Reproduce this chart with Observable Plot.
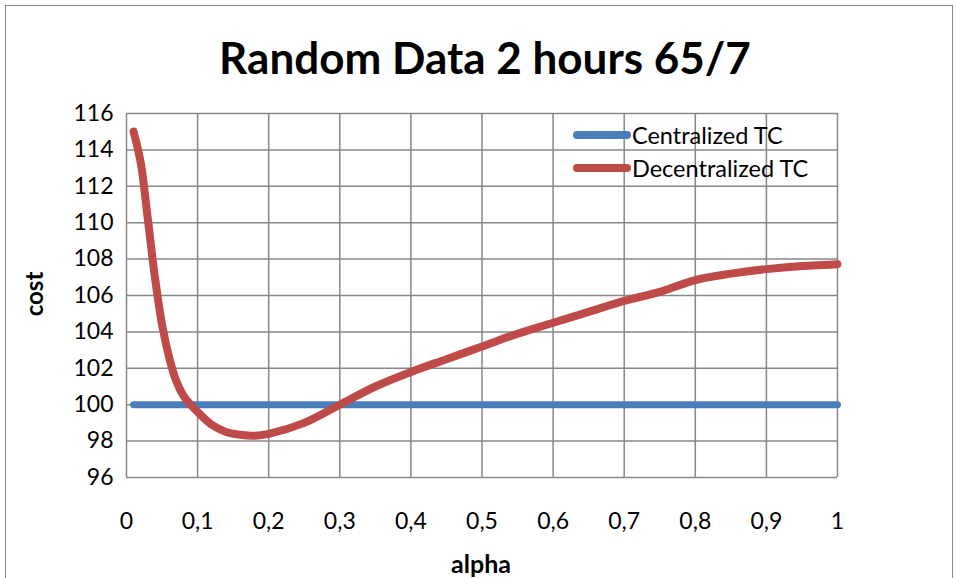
<!DOCTYPE html>
<html><head><meta charset="utf-8">
<script src="https://cdn.jsdelivr.net/npm/d3@7"></script>
<script src="https://cdn.jsdelivr.net/npm/@observablehq/plot@0.6"></script>
<style>
body{margin:0;background:#fff;font-family:Lato,"Open Sans",sans-serif;}
#wrap{position:relative;width:957px;height:578px;overflow:hidden;}
#border{position:absolute;left:5px;top:5px;width:946px;height:600px;border:1.5px solid #8a8a8a;}
#title{position:absolute;left:0;width:970px;top:31px;text-align:center;font-weight:bold;font-size:44px;line-height:53px;color:#000;}
.lab{position:absolute;font-weight:bold;font-size:24px;color:#000;white-space:nowrap;}
.leg{position:absolute;font-size:23.5px;line-height:28px;color:#000;white-space:nowrap;}
.sw{position:absolute;height:8px;border-radius:4px;}
#chart{position:absolute;left:0;top:0;}
</style></head><body>
<div id="wrap">
<div id="border"></div>
<div id="chart"></div>
<div id="title">Random Data 2 hours 65/7</div>
<div class="lab" style="left:481px;top:563px;transform:translate(-50%,-50%);font-size:25px;">alpha</div>
<div class="lab" style="left:33px;top:294px;transform:translate(-50%,-50%) rotate(-90deg);">cost</div>
<div class="sw" style="left:573px;top:131px;width:58px;background:#4a7ebb"></div>
<div class="leg" style="left:632px;top:121px;">Centralized TC</div>
<div class="sw" style="left:573px;top:164px;width:58px;background:#be4b48"></div>
<div class="leg" style="left:632px;top:154px;">Decentralized TC</div>
</div>
<script>
const alphaC = [0.01, 1];
const centralized = [100, 100];
const alphaD = [0.01,0.02,0.03,0.04,0.05,0.06,0.07,0.08,0.09,0.1,0.12,0.14,0.16,0.18,0.2,0.25,0.3,0.35,0.4,0.45,0.5,0.55,0.6,0.65,0.7,0.75,0.8,0.85,0.9,0.95,1];
const decentralized = [115.0,113.3,110.2,107.0,104.4,102.6,101.3,100.5,100.0,99.6,98.9,98.5,98.35,98.3,98.4,99.0,100.0,101.0,101.8,102.5,103.2,103.9,104.5,105.1,105.7,106.2,106.85,107.2,107.45,107.62,107.72];
const xTicks = [0,0.1,0.2,0.3,0.4,0.5,0.6,0.7,0.8,0.9,1];
const yTicks = [96,98,100,102,104,106,108,110,112,114,116];

const cData = alphaC.map((a,i)=>({alpha:a, cost:centralized[i]}));
const dData = alphaD.map((a,i)=>({alpha:a, cost:decentralized[i]}));
const fmt = d => String(d).replace(".", ",");

const chart = Plot.plot({
  width: 957, height: 578,
  marginLeft: 126, marginRight: 120, marginTop: 113, marginBottom: 101,
  style: {fontFamily: "Lato, 'Open Sans', sans-serif", fontSize: "23px", color: "#000", background: "transparent"},
  x: {domain: [0,1], label: null},
  y: {domain: [96,116], label: null},
  marks: [
    Plot.gridX(xTicks, {stroke: "#878787", strokeOpacity: 1, strokeWidth: 1.5}),
    Plot.gridY(yTicks, {stroke: "#878787", strokeOpacity: 1, strokeWidth: 1.5}),
    Plot.axisX({ticks: xTicks, tickFormat: fmt, tickSize: 0, tickPadding: 35, label: null, fontSize: 23}),
    Plot.axisY({ticks: yTicks, tickSize: 0, tickPadding: 13, label: null, fontSize: 23}),
    Plot.line(cData, {x: "alpha", y: "cost", stroke: "#4a7ebb", strokeWidth: 7, strokeLinecap: "round"}),
    Plot.line(dData, {x: "alpha", y: "cost", stroke: "#be4b48", strokeWidth: 8, strokeLinecap: "round", strokeLinejoin: "round", curve: "catmull-rom"})
  ]
});
document.getElementById("chart").appendChild(chart);
</script>
</body></html>
